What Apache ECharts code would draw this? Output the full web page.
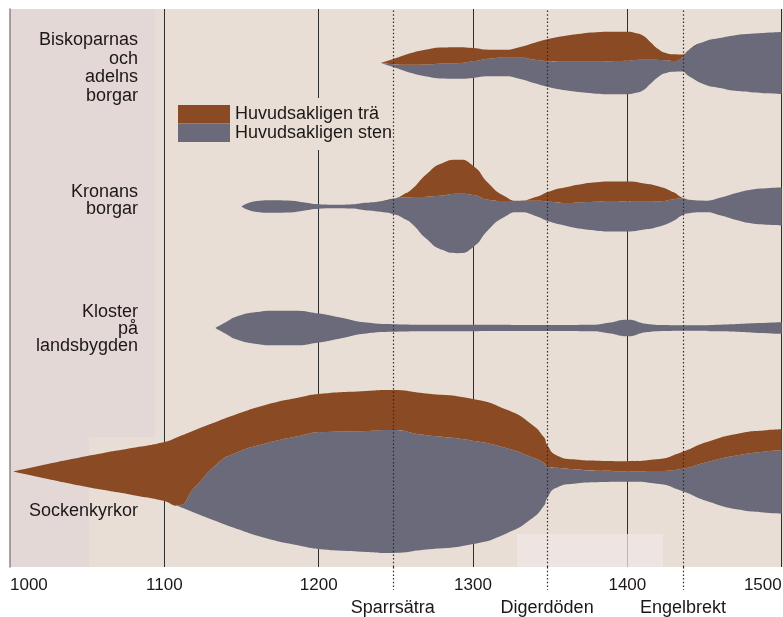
<!DOCTYPE html>
<html><head><meta charset="utf-8">
<script src="https://cdn.jsdelivr.net/npm/echarts@6/dist/echarts.min.js"></script>
<style>html,body{margin:0;padding:0;background:#fff}#c{width:783px;height:617px}</style>
</head><body><div id="c"></div>
<script>
// ---------------- DATA ----------------
const ROW_LABELS = ['Biskoparnas\noch\nadelns\nborgar', 'Kronans\nborgar', 'Kloster\npå\nlandsbygden', 'Sockenkyrkor'];
const LEGEND_NAMES = ['Huvudsakligen trä', 'Huvudsakligen sten'];
const EVENT_YEARS = [1248, 1348, 1436];
const EVENT_NAMES = ['Sparrsätra', 'Digerdöden', 'Engelbrekt'];

// Biskoparnas och adelns borgar
const biskYears = [1240,1248,1260,1270,1280,1290,1300,1310,1320,1330,1340,1350,1360,1370,1380,1390,1400,1405,1410,1415,1420,1425,1430,1435,1440,1450,1460,1470,1480,1490,1500];
const biskWood  = [0,5,11.7,15,16,16,13.3,9,8,10.6,17,22.7,26,28,29.3,29.3,29,27,24.3,17.7,11,7.3,6.7,4,0,0,0,0,0,0,0];
const biskStone = [0,2.6,8.3,12,15,15.7,16.7,17.7,18.7,21.1,23.7,26.3,28.7,30.7,32,33,33.3,33,30.7,24,17,12.7,10.7,13,26.7,43,50,55.7,58.3,60.5,62];

// Kronans borgar
const kronYears = [1150,1160,1170,1180,1190,1200,1210,1220,1230,1240,1250,1255,1260,1270,1280,1290,1300,1310,1320,1330,1340,1350,1360,1370,1380,1390,1400,1410,1420,1430,1435,1440,1450,1460,1470,1480,1490,1500];
const kronWood  = [0,0,0,0,0,0,0,0,0,0,0,3,7.3,22.7,32.4,34,29.4,16.7,5.4,0,3.3,10.7,15.7,18,19.3,19.5,20,18.7,15.3,7,1,0,0,0,0,0,0,0];
const kronStone = [0,11,12.7,12,8.3,4.3,3.5,4,7.3,10.7,16.7,21,26,42.3,54.3,59.3,52.3,30,16.3,11.7,15,20,22.6,26.6,29,30.5,30,28,25.3,21.3,17.3,13.3,11.7,17.6,26.6,33.7,36.7,38];

// Kloster på landsbygden
const klosYears = [1133,1140,1147,1160,1171,1183,1200,1214,1231,1248,1270,1300,1350,1376,1388,1400,1412,1424,1436,1460,1485,1500];
const klosStone = [0,12,23,32,34.7,34.7,29,21,11,7.7,6.7,6.3,6,6.5,10.7,16.7,8.7,6,5.3,6.7,10,11.7];

// Sockenkyrkor
const sockYears = [1002,1020,1040,1060,1080,1100,1108,1120,1135,1145,1166,1188,1200,1231,1246,1268,1300,1322,1337,1346,1348,1354,1365,1380,1400,1419,1435,1451,1473,1490,1500];
const sockWood  = [0,12,25,36.7,47.3,59,68,56.7,41.7,38.4,38.4,38.4,38.3,40,40,41.7,41.7,38.3,33.3,25.6,21.6,12.7,10,10,10,11.6,16.6,20,21.7,21.2,21];
const sockStone = [0,0,0,0,0,0,0,26.3,59.3,74.1,95,110.1,116.7,121,123,115,103.3,85,63.4,42.7,31.7,20,14.3,11.5,10.7,12.7,21.7,38.3,55,61.3,63.3];

// ---------------- LAYOUT / STYLE ----------------
const BROWN = '#8a4a23', GREY = '#6b6a7a';
const BG = '#e8ded6', PANEL = '#e3d8d5', TEXT = '#1c1818';
const FONT = '"Liberation Sans", Arial, Helvetica, sans-serif';
const GRID = {left: 10, top: 9, right: 1.3, bottom: 50};
const Y_MAX = 558;
const ROW_CENTER_PX = [63, 206.5, 328, 471.5];
const ROW_LABEL_POS = [[138, 68, 18.5], [138, 201, 17], [138, 329.5, 17], [138, 511.5, 18]];

const rows = [
  {years: biskYears, wood: biskWood, stone: biskStone},
  {years: kronYears, wood: kronWood, stone: kronStone},
  {years: klosYears, wood: null, stone: klosStone},
  {years: sockYears, wood: sockWood, stone: sockStone}
];

const series = [];
rows.forEach((r, i) => {
  const c = Y_MAX - (ROW_CENTER_PX[i] - GRID.top);
  const total = r.years.map((y, k) => (r.wood ? r.wood[k] : 0) + r.stone[k]);
  const common = {
    type: 'line', stack: 'row' + i, symbol: 'none', showSymbol: false, smooth: 0.6,
    encode: {x: 1, y: 0}, silent: true, animation: false, emphasis: {disabled: true},
    lineStyle: {width: 0}
  };
  series.push(Object.assign({}, common, {
    name: 'base' + i, data: r.years.map((y, k) => [c - total[k] / 2, y]),
    lineStyle: {width: 0, opacity: 0}
  }));
  series.push(Object.assign({}, common, {
    name: LEGEND_NAMES[1], color: GREY, itemStyle: {color: GREY},
    areaStyle: {color: GREY, opacity: 1},
    data: r.years.map((y, k) => [r.stone[k], y])
  }));
  if (r.wood) series.push(Object.assign({}, common, {
    name: LEGEND_NAMES[0], color: BROWN, itemStyle: {color: BROWN},
    areaStyle: {color: BROWN, opacity: 1},
    data: r.years.map((y, k) => [r.wood[k], y])
  }));
});

series[0].markLine = {
  silent: true, symbol: ['none', 'none'], z: 5, animation: false,
  lineStyle: {color: '#2b2b2b', width: 1.2, type: [1.5, 2.2]},
  label: {show: true, position: 'start', distance: 32, formatter: '{b}', fontSize: 18, color: TEXT, fontFamily: FONT},
  emphasis: {disabled: true},
  data: EVENT_YEARS.map((y, i) => ({xAxis: y, name: EVENT_NAMES[i]}))
};

const bgGraphics = [
  {type: 'rect', z: -3, silent: true, shape: {x: 10, y: 9, width: 773, height: 558}, style: {fill: BG}},
  {type: 'rect', z: -2, silent: true, shape: {x: 10, y: 9, width: 145, height: 428}, style: {fill: PANEL}},
  {type: 'rect', z: -2, silent: true, shape: {x: 10, y: 437, width: 79, height: 130}, style: {fill: PANEL}},
  {type: 'rect', z: 1, silent: true, shape: {x: 517, y: 534, width: 146, height: 33}, style: {fill: 'rgba(240,230,228,0.75)'}}
];
ROW_LABELS.forEach((t, i) => {
  const p = ROW_LABEL_POS[i];
  bgGraphics.push({type: 'text', z: 3, silent: true, style: {
    text: t, x: p[0], y: p[1], textAlign: 'right', textVerticalAlign: 'middle',
    font: '18px ' + FONT, fill: TEXT, lineHeight: p[2]
  }});
});

const chart = echarts.init(document.getElementById('c'));
chart.setOption({
  animation: false,
  backgroundColor: '#ffffff',
  grid: Object.assign({containLabel: false, outerBoundsMode: 'none'}, GRID),
  legend: {
    data: [{name: LEGEND_NAMES[0], itemStyle: {color: BROWN}}, {name: LEGEND_NAMES[1], itemStyle: {color: GREY}}],
    orient: 'vertical', left: 173, top: 98, padding: [7, 8, 8, 5],
    itemWidth: 52, itemHeight: 18.5, itemGap: 0, icon: 'rect',
    backgroundColor: BG, selectedMode: false,
    itemStyle: {borderWidth: 0},
    textStyle: {fontSize: 18, color: TEXT, fontFamily: FONT}
  },
  xAxis: {
    type: 'value', min: 1000, max: 1500, interval: 100,
    axisLine: {show: false}, axisTick: {show: false},
    splitLine: {show: true, showMinLine: false, lineStyle: {color: '#2e2e2e', width: 1}},
    axisLabel: {fontSize: 17, color: TEXT, fontFamily: FONT, margin: 10, alignMinLabel: 'left', alignMaxLabel: 'right',
      formatter: v => String(v)}
  },
  yAxis: {
    type: 'value', min: 0, max: Y_MAX,
    axisLine: {show: true, lineStyle: {color: '#8d8686', width: 1.5}},
    axisLabel: {show: false}, axisTick: {show: false}, splitLine: {show: false}
  },
  graphic: {elements: bgGraphics},
  series: series
});

// dotted event lines continue a little below the plot
const extra = EVENT_YEARS.map(y => {
  const x = Math.round(chart.convertToPixel({xAxisIndex: 0}, y)) + 0.5;
  return {type: 'line', z: 5, silent: true, shape: {x1: x, y1: 567, x2: x, y2: 590},
    style: {stroke: '#2b2b2b', lineWidth: 1.2, lineDash: [1.5, 2.2]}};
});
chart.setOption({graphic: {elements: bgGraphics.concat(extra)}});
</script>
</body></html>
